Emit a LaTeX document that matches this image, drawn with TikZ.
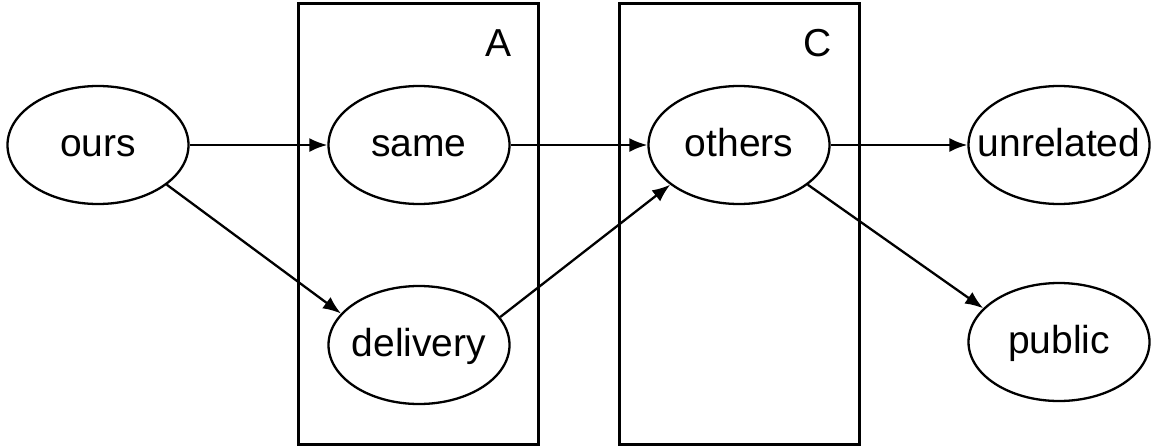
\documentclass[tikz,border=0pt]{standalone}
\usepackage{fontspec}
\setmainfont{Liberation Sans}
\usetikzlibrary{shapes.geometric,arrows.meta}
\newcommand{\ztext}[1]{\makebox[0pt]{#1}}
\begin{document}
\begin{tikzpicture}[x=1pt,y=-1pt,
  ell/.style={draw, line width=2.3pt, ellipse, minimum width=181pt, minimum height=118pt, inner sep=0pt, text height=22pt, text depth=0pt, font=\fontsize{39}{42}\selectfont},
  platebox/.style={draw, line width=2.3pt, minimum width=240pt, minimum height=441pt, inner sep=0pt},
  platelabel/.style={inner sep=0pt, font=\fontsize{39}{42}\selectfont},
  conn/.style={line width=2.3pt, -{Latex[length=18pt,width=14pt]}}]
\useasboundingbox (0,0) rectangle (1153,447);
\node[platebox] (boxA) at (418.5,224) {};
\node[platebox] (boxC) at (739.5,224) {};
\node[platelabel] (labA) at (498,43) {A};
\node[platelabel] (labC) at (818,43) {C};
\node[ell] (ours) at (98,145) {\ztext{ours}};
\node[ell] (same) at (419,145) {\ztext{same}};
\node[ell] (delivery) at (419,345) {\ztext{delivery}};
\node[ell] (others) at (739,145) {\ztext{others}};
\node[ell] (unrelated) at (1059,145) {\ztext{unrelated}};
\node[ell] (public) at (1059,342) {\ztext{public}};
\draw[conn] (ours.east) -- (same.west);
\draw[conn] (ours.-30) -- (delivery.158);
\draw[conn] (same.east) -- (others.west);
\draw[conn] (delivery.19) -- (others.210);
\draw[conn] (others.east) -- (unrelated.west);
\draw[conn] (others.-30) -- (public.156);
\end{tikzpicture}
\end{document}
